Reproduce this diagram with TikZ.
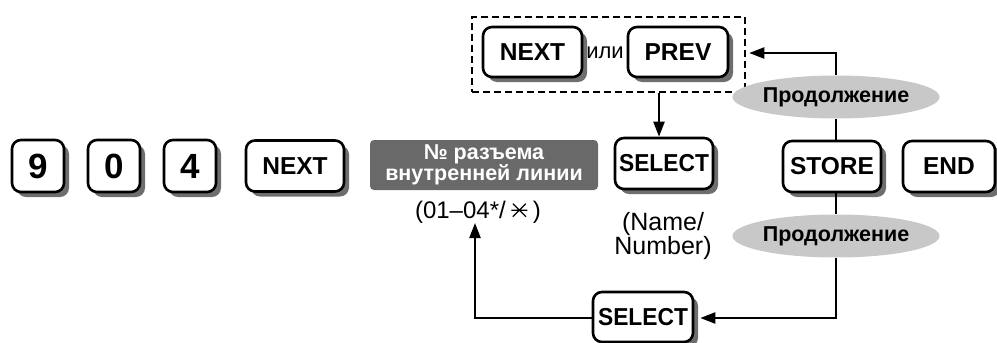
\documentclass[tikz,border=0pt]{standalone}
\usepackage{fontspec}
\setmainfont{Liberation Sans}
\usetikzlibrary{arrows.meta,shapes.geometric,shadows}
\definecolor{shadowgray}{RGB}{110,110,110}
\definecolor{boxgray}{RGB}{105,105,105}
\definecolor{ellgray}{RGB}{200,200,200}
\newcommand{\startimes}{\tikz[baseline=0pt,x=1pt,y=1pt]{\draw[line width=1.2pt,line cap=butt] (1.5,1.5)--(14.5,14.5) (1.5,14.5)--(14.5,1.5) (0,8)--(16,8);}}
\begin{document}
\begin{tikzpicture}[x=1pt,y=-1pt,
  keybox/.style={draw=black, line width=2.6pt, rounded corners=9pt, fill=white,
    inner sep=0pt, minimum height=51pt, minimum width=98pt,
    font=\bfseries\fontsize{24.5}{24.5}\selectfont,
    drop shadow={shadow xshift=5pt, shadow yshift=-5pt, fill=shadowgray, opacity=1}},
  digitbox/.style={keybox, minimum width=52pt, minimum height=52pt,
    font=\bfseries\fontsize{35}{35}\selectfont},
  graybox/.style={rounded corners=4pt, fill=boxgray, text=white, inner sep=0pt,
    align=center, minimum width=228pt, minimum height=50pt,
    font=\bfseries\fontsize{21.5}{20}\selectfont},
  ellbox/.style={ellipse, fill=ellgray, inner sep=0pt, minimum width=166pt,
    minimum height=43pt, font=\bfseries\fontsize{21.5}{21.5}\selectfont},
  plain/.style={inner sep=0pt, align=center, font=\fontsize{25}{23}\selectfont},
  conn/.style={line width=2.2pt},
  arr/.style={line width=2.2pt, -{Triangle[length=15pt,width=11pt]}},
]
\useasboundingbox (0,0) rectangle (997,343);

% first row
\node[digitbox] (k9) at (38,166) {9};
\node[digitbox] (k0) at (114,166) {0};
\node[digitbox] (k4) at (190,166) {4};
\node[keybox] (nextA) at (295,166) {NEXT};
\node[graybox] (ext) at (484,165) {№ разъема\\внутренней линии};
\node[plain, font=\fontsize{24}{24}\selectfont] (range) at (478,212) {(01–04*/\hspace{5pt}\startimes\hspace{5pt})};
\node[keybox] (selA) at (664,163.5) {\scalebox{0.93}[1]{SELECT}};
\node[plain] (nn) at (663,236) {(Name/\\Number)};
\node[keybox] (store) at (832,166.5) {STORE};
\node[keybox, minimum width=92pt] (endk) at (949,166.5) {END};

% top group
\node[draw, line width=2.5pt, dash pattern=on 7pt off 4pt, inner sep=0pt,
  minimum width=273pt, minimum height=75pt] (grp) at (608.5,54.5) {};
\node[keybox, minimum width=99pt, minimum height=50pt] (nextB) at (532.5,52) {NEXT};
\node[plain, font=\fontsize{22}{22}\selectfont] (ili) at (605,53) {или};
\node[keybox, minimum width=100pt, minimum height=50pt] (prev) at (678,52) {PREV};

% ellipses
\node[ellbox] (topEll) at (836,97) {Продолжение};
\node[ellbox] (botEll) at (836,236) {Продолжение};

% bottom select
\node[keybox, minimum height=50pt, minimum width=100pt] (selB) at (643,317) {\scalebox{0.93}[1]{SELECT}};

% coordinates
\coordinate (turnT) at (836,53);
\coordinate (turnB) at (836,318);
\coordinate (upL) at (475,223);

% connectors
\draw[arr] ([xshift=-5pt]selA.north |- grp.south) -- ([xshift=-5pt]selA.north);
\draw[conn] (store.north -| topEll.south) -- (topEll.south);
\draw[arr] (topEll.north) -- (turnT) -- ([xshift=3pt]grp.east |- turnT);
\draw[conn] (store.south -| botEll.north) -- (botEll.north);
\draw[arr] (botEll.south) -- (turnB) -- ([xshift=6pt]selB.east |- turnB);
\draw[arr] (selB.west |- turnB) -- (upL |- turnB) -- (upL);
\end{tikzpicture}
\end{document}
